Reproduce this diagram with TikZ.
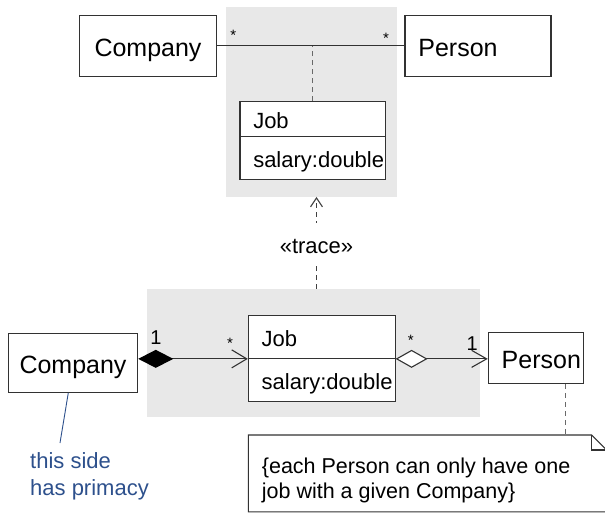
\documentclass[tikz,border=0pt]{standalone}
\usepackage{fontspec}
\setmainfont{Liberation Sans}
\usetikzlibrary{arrows.meta,calc}
\definecolor{bggray}{RGB}{232,232,232}
\definecolor{edge}{RGB}{50,50,50}
\definecolor{dashgray}{RGB}{105,105,105}
\definecolor{noteblue}{RGB}{45,80,140}
\begin{document}
\begin{tikzpicture}[x=1pt,y=-1pt,
  bg/.style={fill=bggray, draw=none, inner sep=0pt},
  cls/.style={draw=edge, line width=1.1pt, fill=white, inner sep=0pt, text height=21pt, text depth=0pt, font=\fontsize{25pt}{30pt}\selectfont},
  clsl/.style={cls, align=left, inner xsep=13.4pt, text width=#1},
  part/.style={draw=edge, line width=1.1pt, fill=white, inner ysep=0pt, inner xsep=13.3pt, align=left, text height=19pt, text depth=0pt, font=\fontsize{22pt}{26pt}\selectfont},
  mult/.style={anchor=base, inner sep=0pt, font=\fontsize{15pt}{17pt}\selectfont},
  one/.style={anchor=base, inner sep=0pt, font=\fontsize{20pt}{24pt}\selectfont},
  assoc/.style={draw=edge, line width=1.1pt},
  acdash/.style={draw=dashgray, line width=1.5pt, dash pattern=on 5pt off 4pt},
  tracearr/.style={draw=black!75, line width=1.1pt, dash pattern=on 5pt off 4pt, -{Straight Barb[length=9pt,width=12pt]}},
  tlabel/.style={fill=white, inner xsep=2pt, inner ysep=12.7pt, text height=17.6pt, text depth=0pt, font=\fontsize{22pt}{26pt}\selectfont},
  compo/.style={draw=edge, line width=1.1pt, {Diamond[length=35pt,width=18pt,color=black]}-{Straight Barb[length=15pt,width=18pt]}},
  aggr/.style={draw=edge, line width=1.1pt, {Diamond[length=32pt,width=18pt,fill=white]}-{Straight Barb[length=15pt,width=17pt]}},
  notel/.style={draw=edge, line width=1.1pt},
  notedash/.style={draw=dashgray, line width=1.5pt, dash pattern=on 5pt off 4pt},
  notetext/.style={align=left, inner sep=0pt, font=\fontsize{21.5pt}{25pt}\selectfont},
  bluetext/.style={align=left, inner sep=0pt, text=noteblue, font=\fontsize{22pt}{27pt}\selectfont},
  blueline/.style={draw=noteblue, line width=0.9pt}]
\useasboundingbox (0,0) rectangle (605,512);
% background areas
\node[bg, minimum width=171.3pt, minimum height=189.4pt] (g1) at (311.35,102) {};
\node[bg, minimum width=333.3pt, minimum height=127.7pt] (g2) at (313.35,352.85) {};
% top diagram
\node[cls, minimum width=137.4pt, minimum height=60.3pt] (c1) at (148,45.9) {Company};
\node[clsl=119.2pt, minimum height=60.3pt] (p1) at (478,45.9) {\mbox{Person}};
\draw[assoc] (c1.east) -- (p1.west);
\node[mult] (s1) at (233.3,40.7) {*};
\node[mult] (s2) at (386,43) {*};
\node[part, text width=118.9pt, minimum height=34.6pt] (j1n) at (312.7,119) {Job};
\node[part, text width=118.9pt, minimum height=42.7pt] (j1a) at (312.7,157.7) {\mbox{salary:double}};
\draw[acdash] (j1n.north) -- (j1n.north |- c1.east);
% trace
\coordinate (tx) at (316.5,0);
\draw[tracearr] (g2.north -| tx) -- node[tlabel, pos=0.48] (tr) {«trace»} (g1.south -| tx);
% bottom diagram
\node[cls, minimum width=129.4pt, minimum height=59pt] (c2) at (73,362.8) {Company};
\node[part, text width=120.1pt, minimum height=42.6pt] (j2n) at (321.7,337) {Job};
\node[part, text width=120.1pt, minimum height=43.4pt] (j2a) at (321.7,380) {\mbox{salary:double}};
\node[clsl=68.2pt, minimum height=51pt] (p2) at (535.8,357.8) {\mbox{Person}};
\draw[compo] (c2.east |- j2n.south) -- (j2n.south west);
\draw[aggr] (j2n.south east) -- (j2n.south east -| p2.west);
\node[one] (o1) at (156,344) {1};
\node[mult] (s3) at (230,348) {*};
\node[mult] (s4) at (410.7,345.7) {*};
\node[one] (o2) at (472.3,350.7) {1};
% note
\node[inner sep=0pt, minimum width=358.4pt, minimum height=76.5pt, anchor=north west] (nb) at (248.3,435) {};
\draw[notel, fill=white] (nb.north west) -- ($(nb.north west)+(343.4,0)$) -- ($(nb.north west)+(358.4,15)$) -- (nb.south east) -- (nb.south west) -- cycle;
\draw[notel] ($(nb.north west)+(343.4,0)$) -- ($(nb.north west)+(343.4,15)$) -- ($(nb.north west)+(358.4,15)$);
\coordinate (nx) at (565.7,0);
\draw[notedash] (p2.south -| nx) -- (nb.north -| nx);
\node[notetext, anchor=base west] (nt) at (261.7,498.3) {\{each Person can only have one\\job with a given Company\}};
% primacy comment
\node[bluetext, anchor=base west] (pt) at (30,495.3) {this side\\has primacy};
\coordinate (bx) at (68.3,0);
\coordinate (pa) at (60,443);
\draw[blueline] (c2.south -| bx) -- (pa);
\end{tikzpicture}
\end{document}
